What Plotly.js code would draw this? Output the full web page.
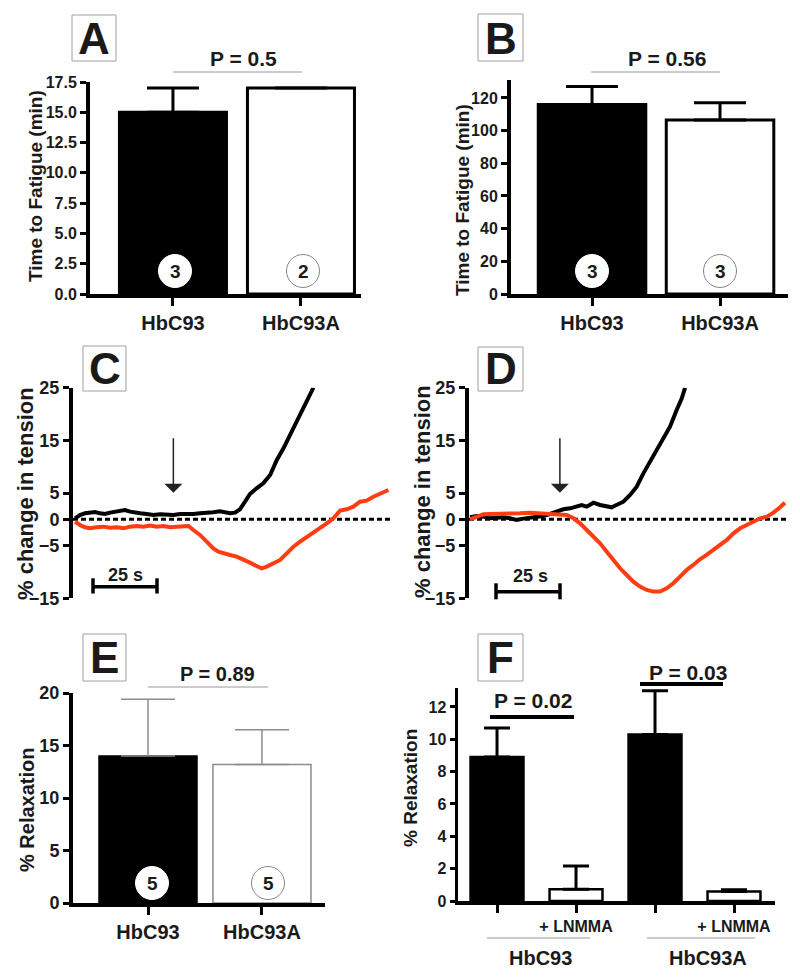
<!DOCTYPE html>
<html><head><meta charset="utf-8">
<script src="https://cdn.plot.ly/plotly-3.0.1.min.js"></script>
<style>html,body{margin:0;padding:0;background:#fff}#chart{width:800px;height:980px}</style>
</head><body><div id="chart"></div>
<script>
// ---------------- data ----------------
const groupsAB = ['HbC93', 'HbC93A'];
const fatigueA = [15.0, 17.0];
const fatigueAErr = [2.0, 0.0];
const fatigueAN = ['3', '2'];

const fatigueB = [116, 106.5];
const fatigueBErr = [11, 10.5];
const fatigueBN = ['3', '3'];

const relaxE = [14.0, 13.2];
const relaxEErr = [5.4, 3.3];
const relaxEN = ['5', '5'];

const groupsF = ['HbC93', 'HbC93 + LNMMA', 'HbC93A', 'HbC93A + LNMMA'];
const tickTextF = ['', '+ LNMMA', '', '+ LNMMA'];
const relaxF = [8.9, 0.72, 10.3, 0.58];
const relaxFErr = [1.8, 1.45, 2.7, 0.12];

const tensionTicks = [-15, -5, 0, 5, 15, 25];

// panel C traces (time in s, % change in tension)
const timeCBlack = [0.8,2.7,4.7,6.6,8.6,10.5,12.5,14.5,16.4,18.4,20.3,22.3,24.2,26.2,28.8,31.4,34.0,36.6,39.2,41.8,44.4,47.0,49.6,52.2,54.8,57.4,60.0,61.3,63.3,65.2,67.2,69.1,71.7,74.3,77.0,79.6,82.2,84.8,87.4,90.0,92.6,93.9];
const tensionCBlack = [0.19,0.82,1.14,1.27,1.39,1.14,1.01,1.27,1.46,1.65,1.77,1.46,1.27,1.14,1.01,0.82,0.95,0.89,0.82,1.01,0.95,1.01,1.14,1.14,1.33,1.52,1.39,1.14,1.27,1.90,3.35,4.81,5.89,6.84,8.42,11.27,13.48,16.01,18.86,21.27,23.61,25.0];
const timeCRed = [0.8,2.7,4.7,6.6,9.2,11.8,14.5,17.1,19.7,22.3,24.9,27.5,30.1,32.7,35.3,37.9,40.5,43.1,45.1,47.0,49.6,52.2,54.8,56.8,58.7,61.3,63.9,66.5,69.1,71.7,73.7,75.7,78.3,80.9,83.5,86.1,88.7,91.3,93.9,96.5,99.1,101.7,104.3,106.9,109.5,112.1,114.7,117.3,119.9,123.2];
const tensionCRed = [-0.44,-1.08,-1.52,-1.71,-1.52,-1.39,-1.58,-1.52,-1.71,-1.39,-1.27,-1.39,-1.20,-1.39,-1.27,-1.52,-1.39,-1.33,-1.27,-2.03,-2.97,-4.24,-5.51,-6.14,-6.46,-6.77,-7.09,-7.59,-8.23,-8.86,-9.30,-8.99,-8.35,-7.72,-6.46,-5.19,-4.24,-3.42,-2.47,-1.71,-0.76,0.19,1.65,1.90,2.41,3.35,3.54,4.30,4.81,5.57];

// panel D traces
const timeDBlack = [0.4,3.0,5.6,8.2,10.8,13.4,16.0,18.6,21.2,23.8,26.4,29.0,31.6,34.2,36.8,39.5,42.1,44.0,46.0,48.6,51.2,53.8,55.7,57.6,60.3,62.9,65.5,68.1,70.7,73.3,75.9,78.5,81.1,83.1,84.4];
const tensionDBlack = [0.38,0.63,0.51,0.19,0.32,0.38,0.19,-0.13,0.13,0.25,0.38,0.63,1.01,1.46,1.90,2.09,2.41,2.72,2.41,3.16,2.72,2.41,2.28,2.72,3.35,4.62,6.20,8.73,10.95,12.85,15.06,17.59,20.76,22.97,25.0];
const timeDRed = [0.4,3.0,5.6,8.2,12.1,16.0,19.9,23.8,27.7,31.6,35.5,38.2,40.8,43.4,46.0,48.6,51.2,53.8,56.4,59.0,61.6,64.2,66.8,69.4,72.0,74.6,77.2,79.8,82.4,85.0,87.6,90.2,92.8,95.4,98.0,100.7,103.3,105.9,108.5,111.1,113.7,116.3,118.9,121.5,123.4];
const tensionDRed = [0.0,0.51,0.95,1.01,1.01,1.08,1.14,1.27,1.14,1.14,1.01,0.82,0.19,-0.76,-2.03,-3.29,-4.56,-6.14,-7.72,-9.30,-10.57,-11.84,-12.78,-13.42,-13.73,-13.73,-13.10,-12.15,-10.89,-9.62,-8.67,-7.59,-6.77,-5.82,-4.87,-3.92,-2.66,-1.71,-1.08,-0.44,0.19,0.51,1.27,2.28,3.16];

// ---------------- layout helpers ----------------
const W = 800, H = 980;
const X = p => p / W;
const Y = p => 1 - p / H;
const FONT = 'Liberation Sans, Arial, Helvetica, sans-serif';
const INK = '#1a1a1a';
const RED = '#ff3c12';
const GREY = '#999999';

function xAx(px0, px1, range, anchor, extra) {
  return Object.assign({
    domain: [X(px0), X(px1)], range: range, anchor: anchor, type: 'category',
    showline: true, linewidth: 4, linecolor: '#000', mirror: false,
    ticks: 'outside', ticklen: 8, tickwidth: 3, tickcolor: '#000',
    showgrid: false, zeroline: false, fixedrange: true,
    tickfont: {family: FONT, size: 20, color: INK, weight: 'bold'}
  }, extra || {});
}
function yAx(py0, py1, range, anchor, extra) {
  return Object.assign({
    domain: [Y(py1), Y(py0)], range: range, anchor: anchor,
    showline: true, linewidth: 4, linecolor: '#000',
    ticks: 'outside', ticklen: 6, tickwidth: 3, tickcolor: '#000',
    showgrid: false, zeroline: false, fixedrange: true,
    tickfont: {family: FONT, size: 16, color: INK, weight: 'bold'}
  }, extra || {});
}

function txt(px, py, text, size, extra) {
  return Object.assign({
    xref: 'paper', yref: 'paper', x: X(px), y: Y(py), text: text, showarrow: false,
    xanchor: 'center', yanchor: 'middle',
    font: {family: FONT, size: size, color: INK, weight: 'bold'}
  }, extra || {});
}
function ytitle(px, py, text, size) {
  return txt(px, py, text, size, {textangle: -90});
}
function pline(x0, x1, y, color, width) {
  return {type: 'line', xref: 'paper', yref: 'paper', x0: X(x0), x1: X(x1), y0: Y(y), y1: Y(y),
          line: {color: color, width: width}};
}
function box(x0, y0, x1, y1) {
  return {type: 'rect', xref: 'paper', yref: 'paper', x0: X(x0), x1: X(x1), y0: Y(y1), y1: Y(y0),
          line: {color: '#a0a0a0', width: 1}, fillcolor: 'rgba(0,0,0,0)'};
}
function circ(cx, cy, r, outline) {
  return {type: 'circle', xref: 'paper', yref: 'paper', xsizemode: 'pixel', ysizemode: 'pixel',
          xanchor: X(cx), yanchor: Y(cy), x0: -r, x1: r, y0: -r, y1: r,
          fillcolor: '#ffffff', line: {color: outline, width: 1}};
}
function scaleBar(x0, x1, y, c0, c1) {
  return [pline(x0, x1, y, '#000', 3.5),
    {type: 'line', xref: 'paper', yref: 'paper', x0: X(x0), x1: X(x0), y0: Y(c0), y1: Y(c1), line: {color: '#000', width: 3.5}},
    {type: 'line', xref: 'paper', yref: 'paper', x0: X(x1), x1: X(x1), y0: Y(c0), y1: Y(c1), line: {color: '#000', width: 3.5}}];
}

// ---------------- traces ----------------
const traces = [
  {type: 'bar', x: groupsAB, y: fatigueA, xaxis: 'x', yaxis: 'y', width: 0.836,
   marker: {color: ['#000000', '#ffffff'], line: {color: '#000', width: 3}},
   error_y: {type: 'data', symmetric: false, array: fatigueAErr, arrayminus: [0, 0], color: '#000', thickness: 3, width: 26},
   hoverinfo: 'none'},
  {type: 'bar', x: groupsAB, y: fatigueB, xaxis: 'x2', yaxis: 'y2', width: 0.84,
   marker: {color: ['#000000', '#ffffff'], line: {color: '#000', width: 3}},
   error_y: {type: 'data', symmetric: false, array: fatigueBErr, arrayminus: [0, 0], color: '#000', thickness: 3, width: 26},
   hoverinfo: 'none'},
  {type: 'scatter', mode: 'lines', x: timeCBlack, y: tensionCBlack, xaxis: 'x3', yaxis: 'y3',
   line: {color: '#000', width: 4}, hoverinfo: 'none'},
  {type: 'scatter', mode: 'lines', x: timeCRed, y: tensionCRed, xaxis: 'x3', yaxis: 'y3',
   line: {color: RED, width: 4}, hoverinfo: 'none'},
  {type: 'scatter', mode: 'lines', x: timeDBlack, y: tensionDBlack, xaxis: 'x4', yaxis: 'y4',
   line: {color: '#000', width: 4}, hoverinfo: 'none'},
  {type: 'scatter', mode: 'lines', x: timeDRed, y: tensionDRed, xaxis: 'x4', yaxis: 'y4',
   line: {color: RED, width: 4}, hoverinfo: 'none'},
  {type: 'bar', x: groupsAB, y: relaxE, xaxis: 'x5', yaxis: 'y5', width: 0.86,
   marker: {color: ['#000000', '#ffffff'], line: {color: ['#000000', '#8c8c8c'], width: 1.5}},
   error_y: {type: 'data', symmetric: false, array: relaxEErr, arrayminus: [0, 0], color: '#8c8c8c', thickness: 1.5, width: 27},
   hoverinfo: 'none'},
  {type: 'bar', x: groupsF, y: relaxF, xaxis: 'x6', yaxis: 'y6', width: 0.67,
   marker: {color: ['#000000', '#ffffff', '#000000', '#ffffff'], line: {color: '#000', width: 2.5}},
   error_y: {type: 'data', symmetric: false, array: relaxFErr, arrayminus: [0, 0, 0, 0], color: '#000', thickness: 3, width: 13},
   hoverinfo: 'none'}
];

// ---------------- layout ----------------
const tickLineY = {tickvals: tensionTicks, tickfont: {family: FONT, size: 18, color: INK, weight: 'bold'}};

const layout = {
  width: W, height: H, margin: {l: 0, r: 0, t: 0, b: 0},
  paper_bgcolor: '#fff', plot_bgcolor: 'rgba(0,0,0,0)', showlegend: false, bargap: 0,
  xaxis:  xAx(90, 361, [-0.648, 1.469], 'y', {ticklabelstandoff: 0}),
  yaxis:  yAx(82, 294, [0, 17.5], 'x', {dtick: 2.5, tick0: 0, tickformat: '.1f'}),
  xaxis2: xAx(511, 788, [-0.633, 1.531], 'y2', {ticklabelstandoff: 0}),
  yaxis2: yAx(80, 294, [0, 131], 'x2', {dtick: 20, tick0: 0}),
  xaxis3: {domain: [X(73), X(391)], range: [0, 124.2], anchor: 'y3', visible: false, fixedrange: true},
  yaxis3: yAx(387.7, 598.3, [-15, 25], 'x3', tickLineY),
  xaxis4: {domain: [X(469), X(787)], range: [0, 124.2], anchor: 'y4', visible: false, fixedrange: true},
  yaxis4: yAx(387.7, 598.3, [-15, 25], 'x4', tickLineY),
  xaxis5: xAx(73, 325, [-0.658, 1.553], 'y5', {ticklabelstandoff: 0}),
  yaxis5: yAx(693, 903, [0, 20], 'x5', {dtick: 5, tick0: 0, tickfont: {family: FONT, size: 18, color: INK, weight: 'bold'}}),
  xaxis6: xAx(458, 775, [-0.494, 3.519], 'y6', {tickmode: 'array', tickvals: groupsF, ticktext: tickTextF,
           ticklabelstandoff: 0, tickfont: {family: FONT, size: 16, color: INK, weight: 'bold'}}),
  yaxis6: yAx(688, 901, [0, 13.17], 'x6', {dtick: 2, tick0: 0, linewidth: 3.5, ticklen: 5}),
  shapes: [
    // zero reference lines in C and D
    {type: 'line', xref: 'x3 domain', yref: 'y3', x0: 0, x1: 1, y0: 0, y1: 0, layer: 'below',
     line: {color: '#000', width: 3, dash: '5px,3px'}},
    {type: 'line', xref: 'x4 domain', yref: 'y4', x0: 0, x1: 1, y0: 0, y1: 0, layer: 'below',
     line: {color: '#000', width: 3, dash: '5px,3px'}},
    // panel letter boxes
    box(72, 15, 116, 61), box(478, 14, 523, 61),
    box(83, 346, 126, 391), box(478, 347, 523, 391),
    box(83, 634, 126, 681), box(478, 634, 523, 681),
    // p-value brackets
    pline(173, 302, 72, GREY, 1), pline(591, 720, 72, GREY, 1), pline(148, 268, 687, GREY, 1),
    pline(490, 574, 717, '#000', 4), pline(640, 723, 684, '#000', 4),
    // group underlines in F
    pline(487, 590, 938, GREY, 1), pline(647, 755, 938, GREY, 1),
    // n circles
    circ(175, 271, 16.5, '#ffffff'), circ(303, 271, 16.5, '#888888'),
    circ(592, 271, 16.5, '#ffffff'), circ(720, 271, 16.5, '#888888'),
    circ(152, 883, 16.5, '#ffffff'), circ(268, 883, 16.5, '#888888')
  ].concat(scaleBar(93, 157, 586.7, 578.3, 593.5), scaleBar(496, 560, 591.7, 583.3, 599.3)),
  annotations: [
    txt(94, 38, 'A', 44), txt(500.5, 38, 'B', 44), txt(104.5, 368.5, 'C', 44),
    txt(500.5, 369, 'D', 44), txt(104.5, 657.5, 'E', 44), txt(500.5, 657.5, 'F', 44),
    txt(243, 58, 'P = 0.5', 21), txt(667, 58, 'P = 0.56', 21), txt(217, 674, 'P = 0.89', 20),
    txt(533, 700, 'P = 0.02', 21), txt(688, 672, 'P = 0.03', 21),
    ytitle(35, 186, 'Time to Fatigue (min)', 19), ytitle(462, 200, 'Time to Fatigue (min)', 19),
    ytitle(25, 494, '% change in tension', 22), ytitle(422, 492, '% change in tension', 22),
    ytitle(27, 810, '% Relaxation', 20), ytitle(410, 788, '% Relaxation', 19),
    txt(175, 271, fatigueAN[0], 19), txt(303, 271, fatigueAN[1], 19),
    txt(592, 271, fatigueBN[0], 19), txt(720, 271, fatigueBN[1], 19),
    txt(152, 883, relaxEN[0], 19), txt(268, 883, relaxEN[1], 19),
    txt(125, 575, '25 s', 18), txt(530, 576, '25 s', 18),
    txt(540, 958, 'HbC93', 20), txt(708, 958, 'HbC93A', 20),
    {xref: 'x3', yref: 'y3', x: 39.2, y: 5.06, ax: 0, ay: -56, text: '', showarrow: true,
     arrowhead: 1, arrowsize: 2, arrowwidth: 1.5, arrowcolor: '#222', standoff: 0},
    {xref: 'x4', yref: 'y4', x: 35.5, y: 5.06, ax: 0, ay: -56, text: '', showarrow: true,
     arrowhead: 1, arrowsize: 2, arrowwidth: 1.5, arrowcolor: '#222', standoff: 0}
  ]
};

Plotly.newPlot('chart', traces, layout, {displayModeBar: false, staticPlot: true});
</script>
</body></html>
